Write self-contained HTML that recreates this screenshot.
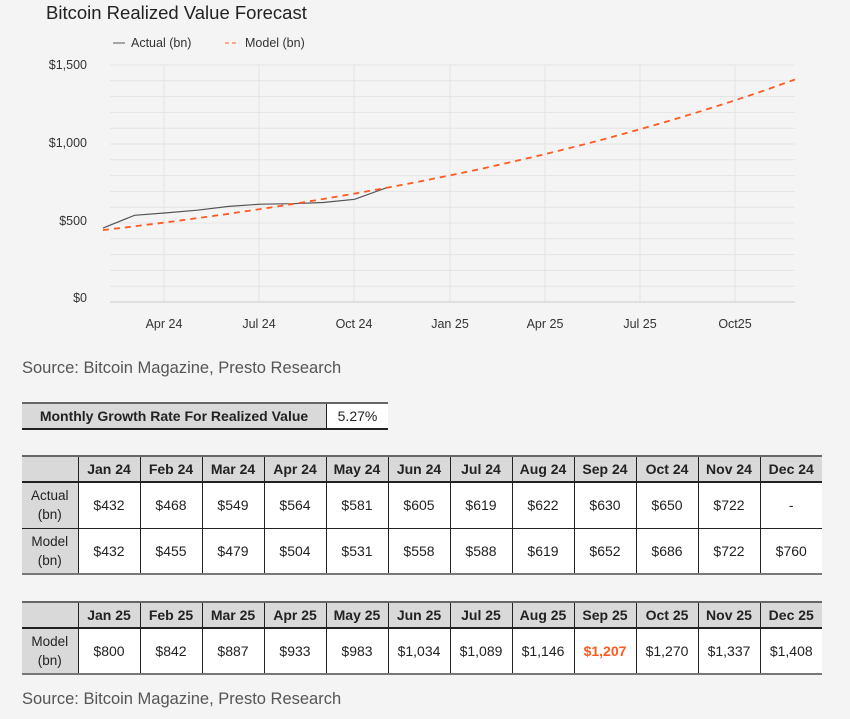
<!DOCTYPE html>
<html><head><meta charset="utf-8"><style>
body{margin:0;width:850px;height:719px;background:#f4f4f4;font-family:"Liberation Sans",sans-serif;position:relative;overflow:hidden;color:#222}
.a{position:absolute}
table{position:absolute;border-collapse:collapse;font-size:14px;text-align:center}
td{border-left:1px solid #222;border-right:1px solid #222;padding:0;background:#fff}
td:first-child{border-left:none}
td:last-child{border-right:none}
tr.h td{background:#d9d9d9;font-weight:bold;border-top:2px solid #666;border-bottom:2px solid #222}
tr.l td{border-bottom:2px solid #777}
tr.m td{border-bottom:1px solid #222}
td.f{background:#d9d9d9;font-size:13.5px;line-height:19px}
</style></head><body>
<div class="a" style="left:46px;top:2px;font-size:18.5px;color:#222">Bitcoin Realized Value Forecast</div>
<svg class="a" style="left:0;top:0" width="850" height="345">
<g stroke="#e4e4e4" stroke-width="1">
<line x1="110" x2="795" y1="65" y2="65"/><line x1="110" x2="795" y1="80.8" y2="80.8"/><line x1="110" x2="795" y1="96.6" y2="96.6"/><line x1="110" x2="795" y1="112.4" y2="112.4"/><line x1="110" x2="795" y1="128.2" y2="128.2"/><line x1="110" x2="795" y1="144" y2="144"/><line x1="110" x2="795" y1="159.8" y2="159.8"/><line x1="110" x2="795" y1="175.6" y2="175.6"/><line x1="110" x2="795" y1="191.4" y2="191.4"/><line x1="110" x2="795" y1="207.2" y2="207.2"/><line x1="110" x2="795" y1="223" y2="223"/><line x1="110" x2="795" y1="238.8" y2="238.8"/><line x1="110" x2="795" y1="254.6" y2="254.6"/><line x1="110" x2="795" y1="270.4" y2="270.4"/><line x1="110" x2="795" y1="286.2" y2="286.2"/>
<line x1="164" x2="164" y1="65" y2="302"/><line x1="259" x2="259" y1="65" y2="302"/><line x1="354" x2="354" y1="65" y2="302"/><line x1="450" x2="450" y1="65" y2="302"/><line x1="545" x2="545" y1="65" y2="302"/><line x1="640" x2="640" y1="65" y2="302"/><line x1="735" x2="735" y1="65" y2="302"/>
</g>
<line x1="110" x2="795" y1="302" y2="302" stroke="#ccc"/>
<g font-size="12.5" fill="#333" text-anchor="end" font-family="Liberation Sans">
<text x="87" y="69">$1,500</text><text x="87" y="147">$1,000</text><text x="87" y="225">$500</text><text x="87" y="302">$0</text>
</g>
<g font-size="12.5" fill="#333" text-anchor="middle" font-family="Liberation Sans">
<text x="164" y="328">Apr 24</text><text x="259" y="328">Jul 24</text><text x="354" y="328">Oct 24</text><text x="450" y="328">Jan 25</text><text x="545" y="328">Apr 25</text><text x="640" y="328">Jul 25</text><text x="735" y="328">Oct25</text>
</g>
<line x1="113" x2="125" y1="43" y2="43" stroke="#555"/>
<text x="131" y="47" font-size="12.5" fill="#333" font-family="Liberation Sans">Actual (bn)</text>
<line x1="225" x2="238" y1="43" y2="43" stroke="#ff5a1f" stroke-dasharray="4,3"/>
<text x="245" y="47" font-size="12.5" fill="#333" font-family="Liberation Sans">Model (bn)</text>
<polyline fill="none" stroke="#555" stroke-width="1.2" points="103,228.1 134.5,215.3 165.9,212.9 197.4,210.2 228.8,206.4 260.3,204.2 291.7,203.7 323.2,202.5 354.6,199.3 386.1,187.9"/>
<polyline fill="none" stroke="#ff5a1f" stroke-width="1.8" stroke-dasharray="6,5" points="103,230.1 134.5,226.3 165.9,222.4 197.4,218.1 228.8,213.8 260.3,209.1 291.7,204.2 323.2,199 354.6,193.6 386.1,187.9 417.5,181.9 449,175.6 480.4,169 511.9,161.9 543.3,154.6 574.8,146.7 606.2,138.6 637.7,129.9 669.1,120.9 700.6,111.3 732,101.3 763.5,90.8 794.9,79.5"/>
</svg>
<div class="a" style="left:22px;top:359px;font-size:16.5px;color:#555">Source: Bitcoin Magazine, Presto Research</div>
<div class="a" style="left:22px;top:690px;font-size:16.5px;color:#555">Source: Bitcoin Magazine, Presto Research</div>
<table style="left:22px;top:402px;width:366px;height:28px"><tr class="h" style="height:26px"><td style="width:304px;border-bottom:2px solid #222">Monthly Growth Rate For Realized Value</td><td style="background:#fff;font-weight:normal">5.27%</td></tr></table>
<table style="left:22px;top:455px;width:800px">
<colgroup><col style="width:56px"><col span="12" style="width:62px"></colgroup>
<tr class="h" style="height:26px"><td></td><td>Jan 24</td><td>Feb 24</td><td>Mar 24</td><td>Apr 24</td><td>May 24</td><td>Jun 24</td><td>Jul 24</td><td>Aug 24</td><td>Sep 24</td><td>Oct 24</td><td>Nov 24</td><td>Dec 24</td></tr>
<tr class="m" style="height:46px"><td class="f">Actual<br>(bn)</td><td>$432</td><td>$468</td><td>$549</td><td>$564</td><td>$581</td><td>$605</td><td>$619</td><td>$622</td><td>$630</td><td>$650</td><td>$722</td><td>-</td></tr>
<tr class="l" style="height:46px"><td class="f">Model<br>(bn)</td><td>$432</td><td>$455</td><td>$479</td><td>$504</td><td>$531</td><td>$558</td><td>$588</td><td>$619</td><td>$652</td><td>$686</td><td>$722</td><td>$760</td></tr>
</table>
<table style="left:22px;top:601px;width:800px">
<colgroup><col style="width:56px"><col span="12" style="width:62px"></colgroup>
<tr class="h" style="height:26px"><td></td><td>Jan 25</td><td>Feb 25</td><td>Mar 25</td><td>Apr 25</td><td>May 25</td><td>Jun 25</td><td>Jul 25</td><td>Aug 25</td><td>Sep 25</td><td>Oct 25</td><td>Nov 25</td><td>Dec 25</td></tr>
<tr class="l" style="height:46px"><td class="f">Model<br>(bn)</td><td>$800</td><td>$842</td><td>$887</td><td>$933</td><td>$983</td><td>$1,034</td><td>$1,089</td><td>$1,146</td><td style="color:#ff5a1f;font-weight:bold">$1,207</td><td>$1,270</td><td>$1,337</td><td>$1,408</td></tr>
</table>
</body></html>
